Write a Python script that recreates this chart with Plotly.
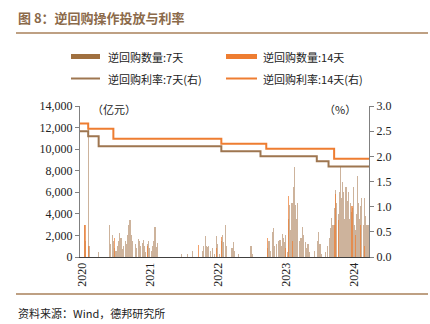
import plotly.graph_objects as go

# ---------------- data ----------------
vol7_dates = [
    "2020-01-13", "2020-01-20", "2020-02-03", "2020-02-04", "2020-02-06", "2020-02-10", "2020-02-12", "2020-03-30",
    "2020-05-27", "2020-06-02", "2020-06-10", "2020-06-18", "2020-06-24", "2020-07-01", "2020-07-08", "2020-07-15",
    "2020-07-22", "2020-07-28", "2020-08-04", "2020-08-12", "2020-08-19", "2020-08-26", "2020-09-02", "2020-09-08",
    "2020-09-14", "2020-09-18", "2020-09-24", "2020-09-29", "2020-10-12", "2020-10-20", "2020-10-28", "2020-11-04",
    "2020-11-11", "2020-11-18", "2020-11-24", "2020-12-01", "2020-12-08", "2020-12-15", "2020-12-22", "2020-12-28",
    "2021-01-06", "2021-01-14", "2021-01-19", "2021-01-22", "2021-01-26", "2021-01-28", "2021-02-03", "2021-02-07",
    "2021-02-10", "2021-06-16", "2021-07-20", "2021-08-17", "2021-10-08", "2021-10-15", "2021-10-22", "2021-10-27",
    "2021-11-01", "2021-11-10", "2021-11-22", "2021-11-30", "2021-12-10", "2021-12-20", "2021-12-24", "2021-12-28",
    "2022-01-05", "2022-01-17", "2022-01-20", "2022-01-24", "2022-01-27", "2022-02-10", "2022-02-15", "2022-03-15",
    "2022-03-22", "2022-03-28", "2022-04-20", "2022-06-21", "2022-06-28", "2022-07-01", "2022-09-20", "2022-09-26",
    "2022-09-30", "2022-10-10", "2022-10-20", "2022-10-24", "2022-10-28", "2022-11-10", "2022-11-20", "2022-11-28",
    "2022-12-05", "2022-12-12", "2022-12-15", "2022-12-22", "2022-12-26", "2022-12-29",
    "2023-01-05", "2023-01-10", "2023-01-13", "2023-01-16", "2023-01-18", "2023-01-20", "2023-01-29", "2023-01-31",
    "2023-02-01", "2023-02-06", "2023-02-09", "2023-02-13", "2023-02-15", "2023-02-20", "2023-02-23", "2023-02-28",
    "2023-03-03", "2023-03-10", "2023-03-20", "2023-03-27", "2023-03-31", "2023-04-12", "2023-04-20", "2023-04-27",
    "2023-05-05", "2023-05-30", "2023-06-15", "2023-06-21", "2023-06-25", "2023-06-30", "2023-07-10", "2023-07-30",
    "2023-08-10", "2023-08-18", "2023-08-24", "2023-08-30", "2023-09-04", "2023-09-08", "2023-09-14", "2023-09-20",
    "2023-09-25", "2023-09-28", "2023-10-09", "2023-10-12", "2023-10-16", "2023-10-20", "2023-10-25", "2023-10-31",
    "2023-11-03", "2023-11-08", "2023-11-14", "2023-11-17", "2023-11-22", "2023-11-27", "2023-11-30", "2023-12-05",
    "2023-12-09", "2023-12-14", "2023-12-19", "2023-12-22", "2023-12-28",
    "2024-01-03", "2024-01-08", "2024-01-12", "2024-01-16", "2024-01-19", "2024-01-22", "2024-01-26", "2024-02-01",
    "2024-02-05", "2024-02-08", "2024-02-19", "2024-02-23", "2024-02-27", "2024-03-04", "2024-03-08", "2024-03-12",
    "2024-03-15",
]
vol7 = [
    3000, 1500, 12000, 9500, 1000, 1000, 500, 500,
    3000, 1200, 2000, 1500, 800, 600, 1000, 1500,
    2200, 1800, 700, 1000, 1500, 1200, 2000, 3000,
    3400, 1600, 2000, 1500, 1200, 800, 1700, 1500,
    1000, 1300, 1600, 1000, 500, 1200, 1500, 800,
    600, 1000, 1500, 2000, 2800, 1000, 900, 1300,
    500, 300, 300, 600, 600, 1000, 1950, 1000,
    900, 1000, 600, 800, 300, 1000, 1950, 1200,
    300, 1000, 1500, 2000, 1400, 3000, 1000, 800,
    1400, 600, 300, 1000, 1000, 300, 800, 1200,
    1500, 600, 2300, 2700, 1000, 1200, 1500, 1600,
    1000, 2100, 1800, 1400, 1200, 2000,
    500, 2000, 3500, 4800, 3300, 2500, 4600, 5000,
    4000, 3000, 6500, 8300, 5500, 4800, 3500, 5000,
    2500, 1500, 1800, 2800, 2000, 1400, 800, 1200,
    500, 600, 1500, 2300, 1000, 1200, 300, 500,
    1000, 1800, 2700, 3600, 2000, 3000, 4500, 6200,
    5000, 3000, 4000, 6000, 8300, 4500, 5500, 7000,
    6000, 3500, 5000, 6500, 4000, 5200, 6000, 3500,
    5000, 4200, 3000, 4500, 6500,
    3000, 2500, 4000, 7500, 4700, 5000, 3500, 2800,
    4700, 5500, 3000, 5500, 3800, 2000, 3000, 1500,
    3000,
]

vol14_dates = [
    "2020-01-17", "2020-02-04", "2020-06-22", "2020-12-15", "2021-09-15", "2021-12-22", "2022-01-20",
    "2022-09-20", "2022-12-26", "2023-01-11", "2023-02-01", "2023-09-18", "2023-09-22", "2023-10-06",
    "2023-12-19", "2024-01-05", "2024-02-02", "2024-02-26",
]
vol14 = [
    3000, 1000, 1800, 1000, 1100, 800, 1900,
    1800, 800, 5700, 1500, 3000, 5800, 3400,
    4700, 2000, 3000, 1000,
]

rate7_dates = ["2019-12-21", "2020-02-03", "2020-03-30", "2022-01-17", "2022-08-15",
               "2023-06-13", "2023-08-15", "2024-03-19"]
rate7 = [2.50, 2.40, 2.20, 2.10, 2.00, 1.90, 1.80, 1.80]

rate14_dates = ["2019-12-21", "2020-02-03", "2020-06-17", "2022-01-17", "2022-09-15",
                "2023-09-14", "2024-03-19"]
rate14 = [2.65, 2.55, 2.35, 2.25, 2.15, 1.95, 1.95]

year_ticks = ["2020-01-01", "2021-01-01", "2022-01-01", "2023-01-01", "2024-01-01"]
year_labels = ["2020", "2021", "2022", "2023", "2024"]

# ---------------- style ----------------
BROWN = "#9C6A3C"
BROWN_LINE = "#9E7650"
ORANGE = "#EE7D31"
TEXT = "#222222"
SERIF = "Liberation Serif, Times New Roman, serif"
CJK = "Noto Sans CJK SC, sans-serif"
DAY = 86400000

fig = go.Figure()
fig.add_trace(go.Bar(x=vol7_dates, y=vol7, width=0.8 * DAY, marker=dict(color=BROWN, line=dict(width=0)),
                     opacity=0.5, name="逆回购数量:7天", showlegend=False))
fig.add_trace(go.Bar(x=vol14_dates, y=vol14, width=0.8 * DAY, marker=dict(color=ORANGE, line=dict(width=0)),
                     opacity=0.7, name="逆回购数量:14天", showlegend=False))
fig.add_trace(go.Scatter(x=rate7_dates, y=rate7, mode="lines", line=dict(color=BROWN_LINE, width=2, shape="hv"),
                         yaxis="y2", name="逆回购利率:7天(右)", showlegend=False))
fig.add_trace(go.Scatter(x=rate14_dates, y=rate14, mode="lines", line=dict(color=ORANGE, width=2, shape="hv"),
                         yaxis="y2", name="逆回购利率:14天(右)", showlegend=False))

fig.update_layout(
    width=430, height=324,
    margin=dict(l=80, r=61, t=106, b=67),
    paper_bgcolor="white", plot_bgcolor="white",
    barmode="overlay", bargap=0,
    xaxis=dict(type="date", range=["2019-12-21", "2024-03-19"], tickvals=year_ticks, ticktext=year_labels,
               tickangle=-90, showgrid=False, showline=True, linecolor="#404040", linewidth=1,
               ticks="", tickfont=dict(family=SERIF, size=12, color=TEXT), zeroline=False),
    yaxis=dict(range=[0, 14000], dtick=2000, tickformat=",", showgrid=False, showline=True,
               linecolor="#808080", linewidth=1, ticks="outside", ticklen=4, tickcolor="#808080",
               tickfont=dict(family=SERIF, size=12, color=TEXT), zeroline=False),
    yaxis2=dict(range=[0, 3], dtick=0.5, tickformat=".1f", overlaying="y", side="right", showgrid=False,
                showline=True, linecolor="#808080", linewidth=1, ticks="outside", ticklen=4,
                tickcolor="#808080", tickfont=dict(family=SERIF, size=12, color=TEXT), zeroline=False),
    showlegend=False,
)


def py(pix):
    return (257 - pix) / 151.0


def px(pix):
    return (pix - 80) / 289.0


shapes = [
    dict(type="line", xref="paper", yref="paper", x0=px(16), x1=px(428), y0=py(33), y1=py(33),
         line=dict(color="#A8805A", width=1.5)),
    dict(type="line", xref="paper", yref="paper", x0=px(16), x1=px(428), y0=py(294), y1=py(294),
         line=dict(color="#A8805A", width=1.5)),
    dict(type="rect", xref="paper", yref="paper", x0=px(71), x1=px(100), y0=py(59), y1=py(54),
         fillcolor="#A0703F", line=dict(width=0)),
    dict(type="rect", xref="paper", yref="paper", x0=px(226), x1=px(257), y0=py(59), y1=py(54),
         fillcolor=ORANGE, line=dict(width=0)),
    dict(type="line", xref="paper", yref="paper", x0=px(71), x1=px(100), y0=py(78.5), y1=py(78.5),
         line=dict(color=BROWN_LINE, width=2)),
    dict(type="line", xref="paper", yref="paper", x0=px(226), x1=px(257), y0=py(78.5), y1=py(78.5),
         line=dict(color=ORANGE, width=2)),
]
fig.update_layout(shapes=shapes)

ann = [
    dict(text="<b>图 8：逆回购操作投放与利率</b>", x=px(16), y=py(17), xanchor="left", yanchor="middle",
         font=dict(family=CJK, size=13, color="#8B6A4A")),
    dict(text="逆回购数量:7天", x=px(106), y=py(56.5), xanchor="left", yanchor="middle",
         font=dict(family=CJK, size=11, color=TEXT)),
    dict(text="逆回购数量:14天", x=px(261), y=py(56.5), xanchor="left", yanchor="middle",
         font=dict(family=CJK, size=11, color=TEXT)),
    dict(text="逆回购利率:7天(右)", x=px(106), y=py(79), xanchor="left", yanchor="middle",
         font=dict(family=CJK, size=11, color=TEXT)),
    dict(text="逆回购利率:14天(右)", x=px(261), y=py(79), xanchor="left", yanchor="middle",
         font=dict(family=CJK, size=11, color=TEXT)),
    dict(text="（亿元）", x=px(90), y=py(109), xanchor="left", yanchor="middle",
         font=dict(family=CJK, size=11, color=TEXT)),
    dict(text="（%）", x=px(322), y=py(109), xanchor="left", yanchor="middle",
         font=dict(family=CJK, size=11, color=TEXT)),
    dict(text="资料来源：Wind，德邦研究所", x=px(16), y=py(313), xanchor="left", yanchor="middle",
         font=dict(family=CJK, size=11, color=TEXT)),
]
for a in ann:
    a.update(xref="paper", yref="paper", showarrow=False)
fig.update_layout(annotations=ann)

fig.write_html("out.html")
